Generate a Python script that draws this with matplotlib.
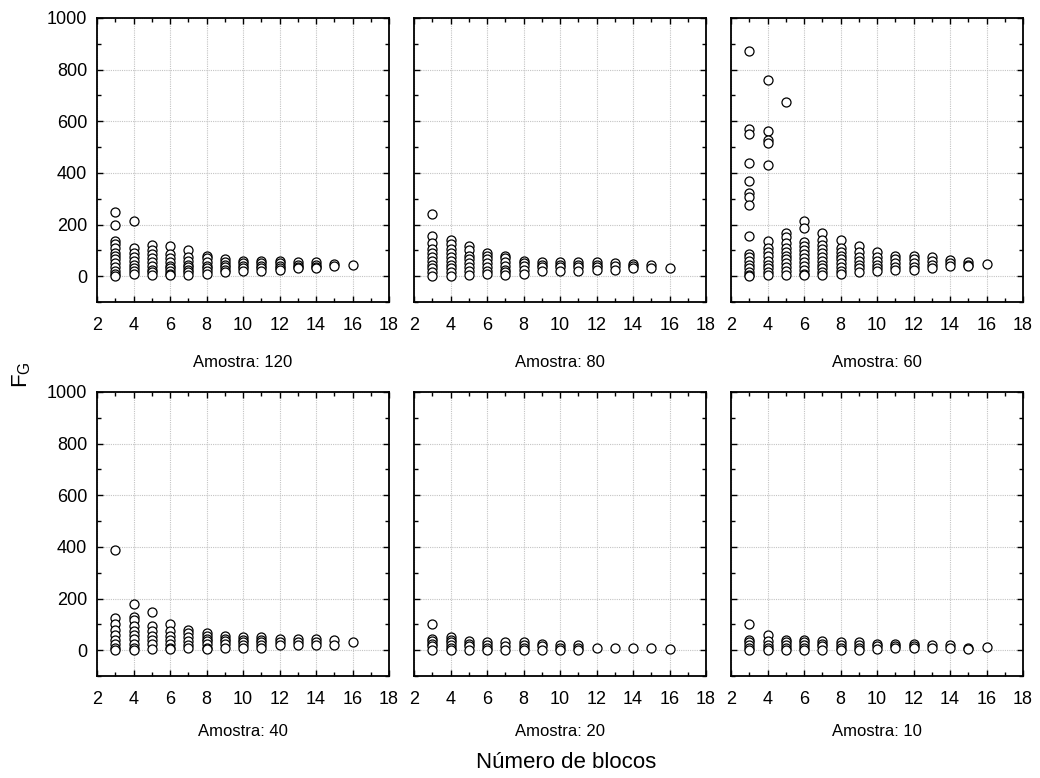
"""Scatter panels of F_G vs number of blocks for several sample sizes."""
import numpy as np
import matplotlib
matplotlib.use("Agg")
import matplotlib.pyplot as plt
from matplotlib.ticker import MultipleLocator

plt.rcParams["font.family"] = ["Liberation Sans", "DejaVu Sans"]

blocks = list(range(3, 17))

# F_G values per number of blocks (3..16)
fg_120 = [
    [250, 200, 135, 125, 110, 90, 80, 65, 50, 35, 20, 10, 0],
    [215, 110, 90, 75, 60, 45, 30, 20, 10],
    [120, 100, 85, 70, 55, 40, 25, 15, 5],
    [115, 85, 70, 55, 40, 30, 20, 10, 5],
    [100, 75, 60, 45, 35, 25, 15, 5],
    [80, 70, 55, 40, 30, 20, 10],
    [65, 55, 45, 35, 25, 15],
    [60, 50, 40, 30, 20],
    [60, 50, 40, 30, 20],
    [60, 50, 40, 30, 25],
    [55, 45, 35, 30],
    [55, 45, 35, 30],
    [48, 40],
    [42],
]
fg_80 = [
    [240, 155, 130, 105, 90, 75, 60, 45, 30, 15, 0],
    [140, 125, 105, 90, 75, 60, 45, 30, 15, 0],
    [115, 100, 80, 65, 50, 35, 20, 5],
    [90, 80, 65, 50, 35, 20, 10],
    [80, 70, 55, 40, 25, 15, 5],
    [60, 50, 40, 25, 10],
    [55, 45, 35, 20],
    [55, 45, 35, 20],
    [55, 45, 35, 20],
    [55, 45, 35, 25],
    [50, 40, 25],
    [48, 38, 30],
    [42, 30],
    [30],
]
fg_60 = [
    [871, 570, 551, 439, 370, 321, 308, 277, 155, 85, 75, 60, 45, 30, 15, 5, 0],
    [760, 561, 528, 515, 431, 135, 110, 95, 80, 60, 45, 30, 15, 5],
    [673, 168, 150, 130, 110, 95, 80, 65, 50, 35, 20, 5],
    [212, 186, 132, 115, 100, 85, 70, 55, 40, 25, 10, 5],
    [168, 142, 120, 105, 90, 75, 60, 45, 30, 15, 5],
    [142, 110, 95, 80, 65, 50, 35, 20, 10],
    [116, 95, 75, 60, 45, 30, 15],
    [93, 75, 60, 45, 30, 20],
    [80, 65, 50, 35, 25],
    [80, 65, 50, 35, 25],
    [74, 60, 45, 30],
    [64, 50, 40],
    [55, 45, 40],
    [48],
]
fg_40 = [
    [387, 126, 100, 80, 60, 40, 25, 10, 0],
    [178, 130, 115, 95, 75, 60, 45, 25, 10, 0],
    [146, 95, 75, 55, 40, 25, 5],
    [100, 75, 55, 40, 25, 10, 5],
    [80, 65, 50, 35, 20, 10],
    [65, 55, 45, 35, 25, 10, 5],
    [55, 45, 35, 25, 10],
    [50, 40, 30, 20, 10],
    [50, 40, 30, 20, 10],
    [42, 30, 20],
    [42, 30, 20],
    [45, 30, 20],
    [38, 22],
    [30],
]
fg_20 = [
    [103, 45, 35, 25, 15, 0],
    [52, 40, 30, 20, 10, 0],
    [35, 25, 15, 0],
    [30, 20, 10, 0],
    [30, 15, 0],
    [30, 20, 10, 0],
    [25, 15, 0],
    [20, 10, 0],
    [20, 10, 0],
    [8],
    [8],
    [8],
    [8],
    [5],
]
fg_10 = [
    [103, 40, 30, 20, 10, 0],
    [58, 35, 20, 10, 0],
    [40, 30, 20, 10, 0],
    [40, 30, 20, 10, 0],
    [35, 25, 15, 0],
    [30, 20, 10, 0],
    [30, 20, 10, 0],
    [25, 15, 5],
    [25, 15, 10],
    [25, 15, 10],
    [20, 10],
    [20, 10],
    [10, 5],
    [12],
]

samples = [120, 80, 60, 40, 20, 10]
series = [fg_120, fg_80, fg_60, fg_40, fg_20, fg_10]

W, H = 1040, 778
fig = plt.figure(figsize=(W / 100, H / 100), dpi=100)

lefts = [97, 414, 731]
tops = [18, 392]
pw, ph = 292, 284

for idx, (n, data) in enumerate(zip(samples, series)):
    r, c = divmod(idx, 3)
    l, t = lefts[c], tops[r]
    ax = fig.add_axes([l / W, 1 - (t + ph) / H, pw / W, ph / H])
    xs = np.concatenate([[b] * len(v) for b, v in zip(blocks, data)])
    ys = np.concatenate([v for v in data])
    ax.plot(xs, ys, "o", mfc="white", mec="black", mew=0.9, ms=6.5, zorder=3)
    ax.set_xlim(2, 18)
    ax.set_ylim(-100, 1000)
    ax.xaxis.set_major_locator(MultipleLocator(2))
    ax.xaxis.set_minor_locator(MultipleLocator(1))
    ax.yaxis.set_major_locator(MultipleLocator(200))
    ax.yaxis.set_minor_locator(MultipleLocator(100))
    ax.tick_params(which="both", direction="in", top=True, right=True,
                   labelsize=13, width=1)
    ax.tick_params(which="major", length=4)
    ax.tick_params(axis="x", which="major", pad=11)
    ax.tick_params(axis="y", which="major", pad=7)
    ax.tick_params(which="minor", length=3)
    ax.grid(True, which="major", color="#c4c4c4", ls=(0, (1, 1)), lw=0.8)
    for sp in ax.spines.values():
        sp.set_linewidth(1.3)
    if c != 0:
        ax.set_yticklabels([])
    cx = (l + pw / 2) / W
    ty = 362 if r == 0 else 732
    fig.text(cx, 1 - ty / H, f"Amostra: {n}", ha="center", va="center", fontsize=12)

fig.text(566 / W, 1 - 762 / H, "Número de blocos", ha="center", va="center", fontsize=16)
fig.text(22 / W, 1 - 375 / H, r"F$_\mathregular{G}$", ha="center", va="center",
         fontsize=16, rotation=90)

fig.savefig("out.png", dpi=100)
